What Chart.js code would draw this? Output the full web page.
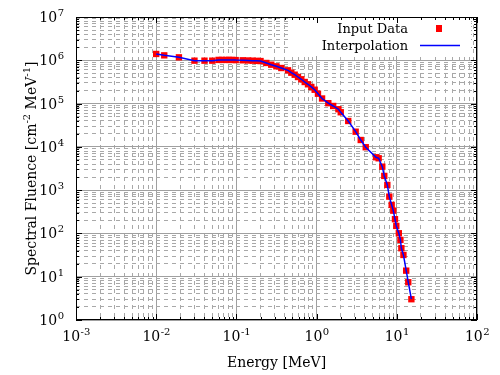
<!DOCTYPE html>
<html>
<head>
<meta charset="utf-8">
<script src="https://cdn.jsdelivr.net/npm/chart.js@4.4.0/dist/chart.umd.min.js"></script>
<style>
  html, body { margin: 0; padding: 0; background: #fff; }
</style>
</head>
<body>
<canvas id="chart" width="500" height="375"></canvas>
<script>
// energy [MeV] and spectral fluence
const energy = [0.01, 0.0126, 0.0192, 0.03, 0.04, 0.05, 0.06, 0.066, 0.074, 0.081, 0.089, 0.098,
  0.12, 0.14, 0.16, 0.18, 0.2, 0.236, 0.272, 0.315, 0.363, 0.44, 0.484, 0.533, 0.586, 0.645,
  0.711, 0.781, 0.859, 0.946, 1.04, 1.17, 1.4, 1.61, 1.87, 2.0, 2.48, 3.07, 3.55, 4.1, 5.5,
  5.94, 6.59, 6.98, 7.62, 8.06, 8.63, 9.04, 9.49, 9.86, 10.6, 11.1, 11.4, 12.1, 13.1, 13.9, 15.2];
const fluence = [1.40e6, 1.30e6, 1.17e6, 9.8e5, 9.8e5, 9.8e5, 1.02e6, 1.02e6, 1.02e6, 1.02e6, 1.02e6, 1.01e6,
  1.0e6, 9.9e5, 9.8e5, 9.7e5, 9.6e5, 8.67e5, 7.91e5, 7.26e5, 6.63e5, 5.87e5, 5.17e5, 4.65e5, 4.11e5, 3.64e5,
  3.15e5, 2.79e5, 2.42e5, 2.09e5, 1.69e5, 1.31e5, 1.02e5, 8.8e4, 7.4e4, 6.3e4, 3.96e4, 2.24e4, 1.44e4, 9.8e3, 5.75e3,
  5.45e3, 3.49e3, 2.13e3, 1.32e3, 708, 455, 336, 213, 149, 101, 70.8, 45.5, 31.8, 13.8, 7.46, 3.02];

// axis decades (tick labels are 10^n)
const xDecades = [-3, -2, -1, 0, 1, 2];
const yDecades = [0, 1, 2, 3, 4, 5, 6, 7];

const legendLabels = ['Input Data', 'Interpolation'];
const xTitle = 'Energy [MeV]';

const FONT = '"DejaVu Serif", serif';

// 1..9 x 10^n for every decade, plus the last decade
function logTicks(decades) {
  const t = [];
  for (let i = 0; i < decades.length - 1; i++) {
    for (let m = 1; m < 10; m++) t.push({ value: m * Math.pow(10, decades[i]) });
  }
  t.push({ value: Math.pow(10, decades[decades.length - 1]) });
  return t;
}

function isMajor(v) {
  const l = Math.log10(v);
  return Math.abs(l - Math.round(l)) < 1e-9;
}

const points = energy.map((e, i) => ({ x: e, y: fluence[i] }));

function gridDash(ctx) {
  if (!ctx.tick) return [];
  return isMajor(ctx.tick.value) ? [] : [4, 4];
}

function gridColor(ctx) {
  if (!ctx.tick) return '#a0a0a0';
  return isMajor(ctx.tick.value) ? '#a0a0a0' : '#a8a8a8';
}

// frame, inward ticks, tick labels, titles and key
const decorations = {
  id: 'decorations',
  afterDraw(chart) {
    const ctx = chart.ctx;
    const a = chart.chartArea;
    const xs = chart.scales.x;
    const ys = chart.scales.y;
    ctx.save();

    // key box (opaque)
    ctx.fillStyle = '#fff';
    ctx.fillRect(292, 18, 179, 38);

    // frame
    ctx.strokeStyle = '#000';
    ctx.lineWidth = 1;
    ctx.setLineDash([]);
    ctx.strokeRect(Math.round(a.left) + 0.5, Math.round(a.top) + 0.5,
      Math.round(a.right - a.left) - 1, Math.round(a.bottom - a.top) - 1);

    // inward tick marks on all four sides
    ctx.beginPath();
    xs.ticks.forEach(t => {
      const px = Math.round(xs.getPixelForValue(t.value)) + 0.5;
      const len = isMajor(t.value) ? 6 : 3;
      ctx.moveTo(px, a.bottom); ctx.lineTo(px, a.bottom - len);
      ctx.moveTo(px, a.top); ctx.lineTo(px, a.top + len);
    });
    ys.ticks.forEach(t => {
      const py = Math.round(ys.getPixelForValue(t.value)) + 0.5;
      const len = isMajor(t.value) ? 6 : 3;
      ctx.moveTo(a.left, py); ctx.lineTo(a.left + len, py);
      ctx.moveTo(a.right, py); ctx.lineTo(a.right - len, py);
    });
    ctx.stroke();

    ctx.fillStyle = '#000';
    ctx.textBaseline = 'alphabetic';
    const base = '14px ' + FONT;
    const sup = '10px ' + FONT;

    // x tick labels
    xDecades.forEach(d => {
      const px = xs.getPixelForValue(Math.pow(10, d));
      ctx.font = base; const w1 = ctx.measureText('10').width;
      ctx.font = sup; const w2 = ctx.measureText(String(d)).width;
      const x0 = px - (w1 + w2) / 2;
      ctx.textAlign = 'left';
      ctx.font = base; ctx.fillText('10', x0, 341);
      ctx.font = sup; ctx.fillText(String(d), x0 + w1 + 0.5, 335);
    });

    // y tick labels
    yDecades.forEach(d => {
      const py = ys.getPixelForValue(Math.pow(10, d));
      ctx.font = sup; const w2 = ctx.measureText(String(d)).width;
      ctx.font = base; const w1 = ctx.measureText('10').width;
      const x1 = 64;
      ctx.textAlign = 'left';
      ctx.font = base; ctx.fillText('10', x1 - w2 - w1 - 0.5, py + 5);
      ctx.font = sup; ctx.fillText(String(d), x1 - w2, py - 1);
    });

    // x title
    ctx.font = base;
    ctx.textAlign = 'center';
    ctx.fillText(xTitle, (a.left + a.right) / 2, 367);

    // y title with superscripts
    const segs = [
      { t: 'Spectral Fluence [cm', s: false },
      { t: '-2', s: true },
      { t: ' MeV', s: false },
      { t: '-1', s: true },
      { t: ']', s: false }
    ];
    let total = 0;
    segs.forEach(sg => { ctx.font = sg.s ? sup : base; sg.w = ctx.measureText(sg.t).width; total += sg.w; });
    ctx.translate(36, (a.top + a.bottom) / 2);
    ctx.rotate(-Math.PI / 2);
    ctx.textAlign = 'left';
    let cx = -total / 2;
    segs.forEach(sg => {
      ctx.font = sg.s ? sup : base;
      ctx.fillText(sg.t, cx, sg.s ? -6 : 0);
      cx += sg.w;
    });
    ctx.setTransform(1, 0, 0, 1, 0, 0);

    // key entries
    ctx.font = '13px ' + FONT;
    ctx.textAlign = 'right';
    ctx.fillText(legendLabels[0], 408, 33);
    ctx.fillText(legendLabels[1], 408, 50);
    ctx.fillStyle = '#ff0000';
    ctx.fillRect(436, 25, 6, 7);
    ctx.strokeStyle = '#0000ff';
    ctx.lineWidth = 1.3;
    ctx.beginPath();
    ctx.moveTo(420, 45.5); ctx.lineTo(460, 45.5);
    ctx.stroke();

    ctx.restore();
  }
};

new Chart(document.getElementById('chart'), {
  type: 'scatter',
  data: {
    datasets: [
      {
        label: legendLabels[1],
        data: points,
        showLine: true,
        borderColor: '#0000ff',
        borderWidth: 1.5,
        pointRadius: 0,
        fill: false,
        order: 0
      },
      {
        label: legendLabels[0],
        data: points,
        showLine: false,
        pointStyle: 'rect',
        pointRadius: 4.5,
        backgroundColor: '#ff0000',
        borderColor: '#ff0000',
        borderWidth: 0,
        order: 1
      }
    ]
  },
  options: {
    responsive: false,
    animation: false,
    devicePixelRatio: 1,
    layout: { padding: { left: 76, right: 23, top: 17, bottom: 55 } },
    plugins: { legend: { display: false }, tooltip: { enabled: false } },
    scales: {
      x: {
        type: 'logarithmic',
        min: Math.pow(10, xDecades[0]),
        max: Math.pow(10, xDecades[xDecades.length - 1]),
        afterBuildTicks: s => { s.ticks = logTicks(xDecades); },
        afterFit: s => { s.height = 0; },
        ticks: { display: false },
        grid: { color: gridColor, lineWidth: 1, drawTicks: false },
        border: { display: false, dash: gridDash }
      },
      y: {
        type: 'logarithmic',
        min: Math.pow(10, yDecades[0]),
        max: Math.pow(10, yDecades[yDecades.length - 1]),
        afterBuildTicks: s => { s.ticks = logTicks(yDecades); },
        afterFit: s => { s.width = 0; },
        ticks: { display: false },
        grid: { color: gridColor, lineWidth: 1, drawTicks: false },
        border: { display: false, dash: gridDash }
      }
    }
  },
  plugins: [decorations]
});
</script>
</body>
</html>
